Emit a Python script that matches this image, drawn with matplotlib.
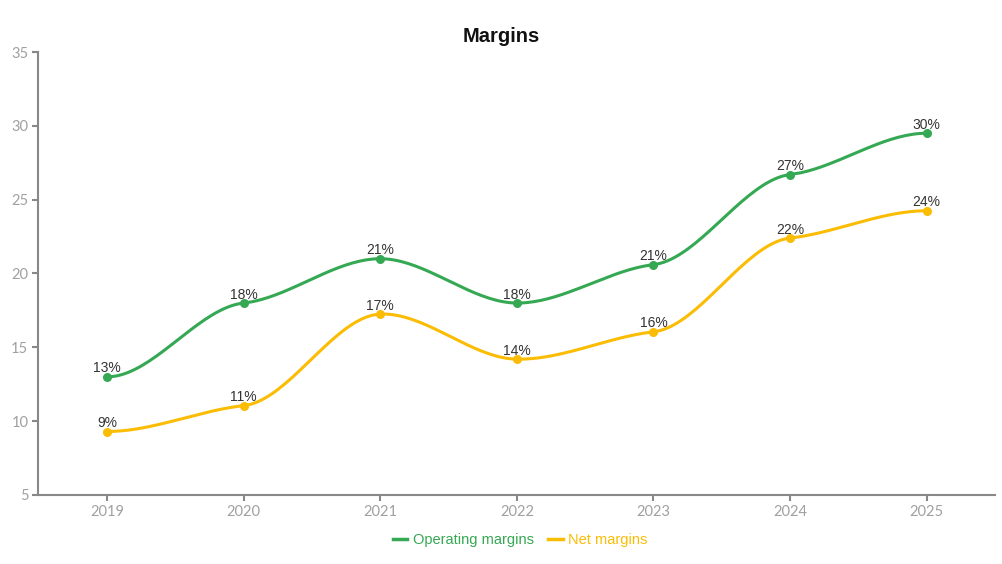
import matplotlib
matplotlib.use("Agg")
import matplotlib.pyplot as plt
import numpy as np
from matplotlib.lines import Line2D

years = ["2019", "2020", "2021", "2022", "2023", "2024", "2025"]
operating = [13.0, 18.0, 21.0, 18.0, 20.6, 26.7, 29.5]
net = [9.3, 11.05, 17.25, 14.2, 16.05, 22.4, 24.25]
op_labels = ["13%", "18%", "21%", "18%", "21%", "27%", "30%"]
net_labels = ["9%", "11%", "17%", "14%", "16%", "22%", "24%"]

GREEN = "#34a853"
YELLOW = "#fbbc04"


def smooth(y, k=0.25, n=40):
    # cubic hermite through the points, soft tangents
    y = np.asarray(y, dtype=float)
    m = np.zeros(len(y))
    for i in range(1, len(y) - 1):
        m[i] = k * (y[i + 1] - y[i - 1]) / 2.0
    xs, ys = [], []
    for i in range(len(y) - 1):
        t = np.linspace(0, 1, n)
        h00 = 2 * t**3 - 3 * t**2 + 1
        h10 = t**3 - 2 * t**2 + t
        h01 = -2 * t**3 + 3 * t**2
        h11 = t**3 - t**2
        xs.append(i + t)
        ys.append(h00 * y[i] + h10 * m[i] + h01 * y[i + 1] + h11 * m[i + 1])
    return np.concatenate(xs), np.concatenate(ys)


fig = plt.figure(figsize=(10.03, 5.64), dpi=100)
ax = fig.add_axes([38 / 1003, 1 - 495 / 564, (995 - 38) / 1003, (495 - 52) / 564])

x = np.arange(len(years))
for vals, labs, col in [(operating, op_labels, GREEN), (net, net_labels, YELLOW)]:
    sx, sy = smooth(vals)
    ax.plot(sx, sy, color=col, lw=2.2, solid_capstyle="round", zorder=3)
    ax.scatter(x, vals, color=col, s=30, zorder=4)
    for xi, v, lab in zip(x, vals, labs):
        ax.annotate(lab, (xi, v), xytext=(0, 1), textcoords="offset points",
                    ha="center", va="bottom", fontsize=10, color="#333333",
                    family="Liberation Sans", zorder=5)

ax.set_xlim(-0.505, 6.5)
ax.set_ylim(5, 35)
ax.set_yticks([5, 10, 15, 20, 25, 30, 35])
ax.set_xticks(x)
ax.set_xticklabels(years)

for s in ["top", "right"]:
    ax.spines[s].set_visible(False)
for s in ["left", "bottom"]:
    ax.spines[s].set_color("#888888")
    ax.spines[s].set_linewidth(1.5)
ax.tick_params(colors="#888888", length=4, width=1.5, labelsize=10.5)
for lab in ax.get_xticklabels() + ax.get_yticklabels():
    lab.set_family("Lato")
    lab.set_color("#a0a0a0")
ax.tick_params(axis="x", pad=3)
ax.tick_params(axis="y", pad=3)

fig.text(0.5, 1 - 37 / 564, "Margins", ha="center", va="center",
         fontsize=14.5, fontweight="bold", family="Liberation Sans", color="#111111")

handles = [Line2D([0], [0], color=GREEN, lw=2.5), Line2D([0], [0], color=YELLOW, lw=2.5)]
leg = fig.legend(handles, ["Operating margins", "Net margins"], loc="center",
                 bbox_to_anchor=(520 / 1003, 1 - 540 / 564), ncol=2, frameon=False,
                 handlelength=1.0, handletextpad=0.35, columnspacing=1.0,
                 prop={"family": "Liberation Sans", "size": 10.5})
for t, c in zip(leg.get_texts(), [GREEN, YELLOW]):
    t.set_color(c)

fig.savefig("out.png", dpi=100)
